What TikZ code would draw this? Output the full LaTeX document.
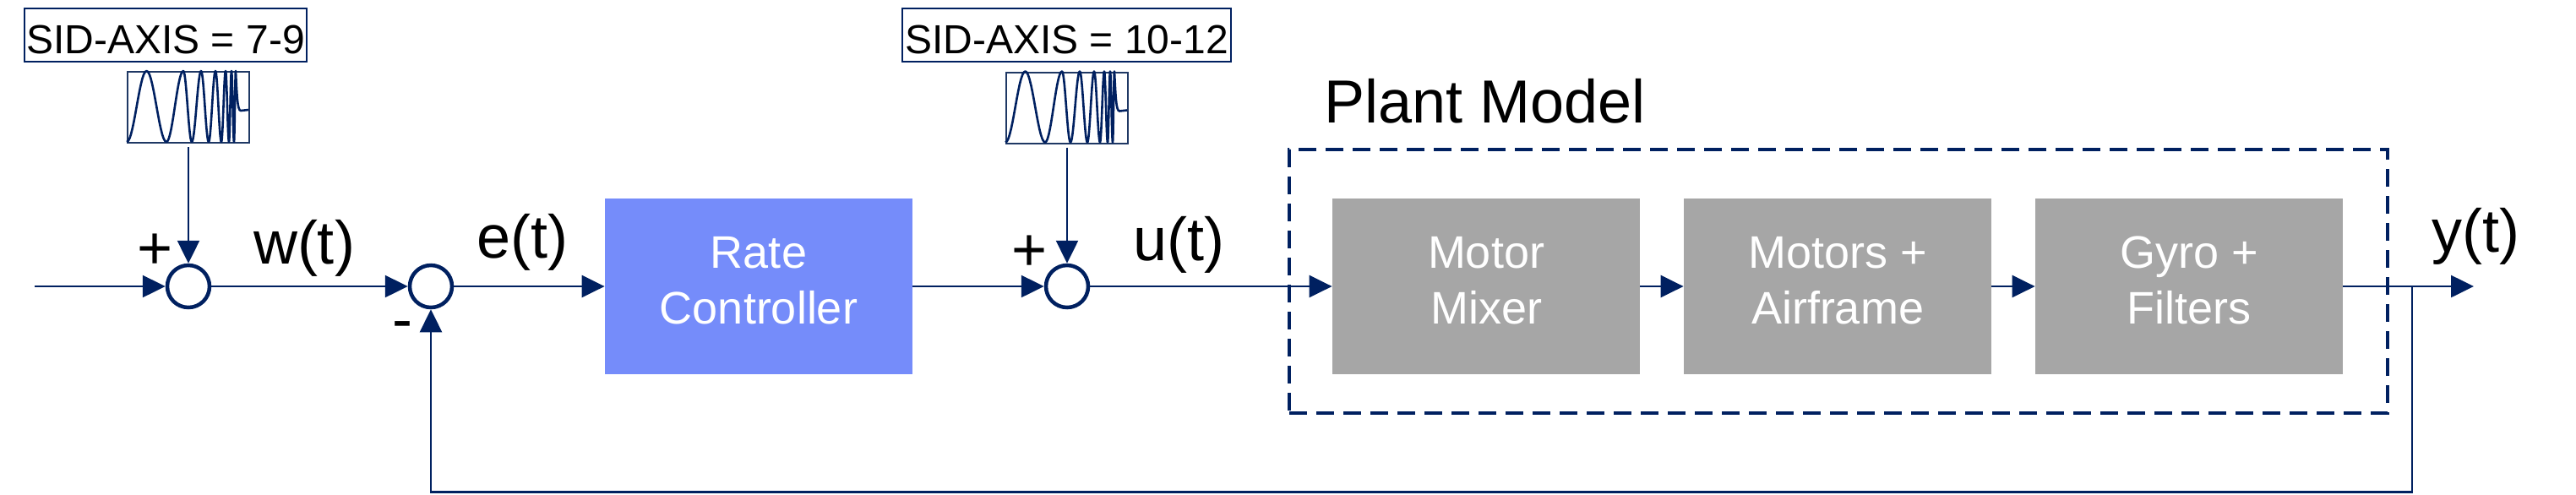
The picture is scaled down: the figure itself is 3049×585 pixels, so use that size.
\documentclass[tikz,border=0pt]{standalone}
\usepackage{fontspec}
\setmainfont{Liberation Sans}
\usetikzlibrary{arrows.meta}
\definecolor{navy}{HTML}{002060}
\definecolor{navybox}{HTML}{1F3864}
\definecolor{ratefill}{HTML}{758CFA}
\definecolor{plantgray}{HTML}{A6A6A6}
\newcommand{\lastdepth}{\rule[-7.5pt]{0pt}{7.5pt}}
\begin{document}
\begin{tikzpicture}[x=0.5pt,y=-0.5pt,
  line/.style={draw=navy, line width=1.25pt},
  arr/.style={line, -{Triangle[length=13.5pt,width=13pt]}},
  sumnode/.style={circle, draw=navy, line width=2.25pt, minimum size=25pt, inner sep=0pt},
  blockbox/.style={rectangle, minimum width=182pt, minimum height=104pt, inner sep=0pt, text=white, align=center, font=\fontsize{27}{33}\selectfont},
  ratebox/.style={blockbox, fill=ratefill},
  graybox/.style={blockbox, fill=plantgray},
  sidbox/.style={rectangle, draw=navy, line width=1.35pt, minimum height=31.5pt, inner sep=0pt, text height=21.5pt, text depth=0pt, font=\fontsize{24}{28}\selectfont},
  chirpbox/.style={rectangle, draw=navybox, line width=1pt, minimum width=72pt, minimum height=42pt, inner sep=0pt},
  sig/.style={font=\fontsize{36}{40}\selectfont, inner sep=0pt, anchor=base},
  plantbox/.style={rectangle, draw=navy, line width=2.25pt, dash pattern=on 10.5pt off 5.5pt, minimum width=650pt, minimum height=156pt, inner sep=0pt},
  chirp/.pic={
    \draw[navy, line width=1.3pt, line join=round] (0,84)
      \foreach \a/\b/\s in {0/23.5/1, 23.5/47/-1, 47/67/1, 67/77/-1, 77/88/1, 88/97/-1, 97/105/1, 105/112/-1, 112/117/1, 117/121/-1, 121/124/1, 124/127/-1, 127/129/1}
      { -- plot[variable=\t, domain=0:180, samples=15] ({\a+(\b-\a)*\t/180},{42+(\s)*42*cos(\t)}) }
      .. controls (130.5,30) and (131,47) .. (135,47) -- (144,46);
  }
]
\useasboundingbox (0,0) rectangle (3049,585);

% SID labels and chirp sources
\node[sidbox, minimum width=167pt] (sid1) at (196,41.5) {SID-AXIS = 7-9};
\node[sidbox, minimum width=194.5pt] (sid2) at (1262.5,41.5) {SID-AXIS = 10-12};
\node[chirpbox] (c1) at (223,127) {};
\pic at (c1.north west) {chirp};
\node[chirpbox] (c2) at (1263,127.5) {};
\pic at (c2.north west) {chirp};

% plant model frame
\node[plantbox] (plant) at (2176,333) {};
\node[font=\fontsize{36}{40}\selectfont, inner sep=0pt, anchor=base] (pm) at (1757.5,145) {Plant Model};

% main blocks
\coordinate (in) at (41,339);
\node[sumnode] (s1) at (223,339) {};
\node[sumnode] (s2) at (510,339) {};
\node[ratebox] (rc) at (898,339) {Rate\\Controller\lastdepth};
\node[sumnode] (s3) at (1263,339) {};
\node[graybox] (mm) at (1759,339) {Motor\\Mixer\lastdepth};
\node[graybox] (ma) at (2175,339) {Motors +\\Airframe\lastdepth};
\node[graybox] (gf) at (2591,339) {Gyro +\\Filters\lastdepth};
\coordinate (out) at (2928,339);
\coordinate (br) at (2855,339);
\coordinate (fbR) at (2855,582.5);
\coordinate (fbL) at (510,582.5);

% signal labels and signs
\node[sig] (lw) at (360,312) {w(t)};
\node[sig] (le) at (618,305) {e(t)};
\node[sig] (lu) at (1395,308) {u(t)};
\node[sig] (ly) at (2930,298) {y(t)};
\node[sig] (p1) at (184,318) {+};
\node[sig] (p3) at (1219,320) {+};
\node[sig] (m2) at (476,402) {-};

% connectors
\draw[arr] (in) -- (s1);
\draw[arr, shorten <=2pt] (c1.south) -- (s1);
\draw[arr] (s1) -- (s2);
\draw[arr] (s2) -- (rc);
\draw[arr] (rc) -- (s3);
\draw[arr, shorten <=2pt] (c2.south) -- (s3);
\draw[arr] (s3) -- (mm);
\draw[arr] (mm) -- (ma);
\draw[arr] (ma) -- (gf);
\draw[arr] (gf) -- (out);
\draw[arr] (br) -- (fbR) -- (fbL) -- (s2);
\end{tikzpicture}
\end{document}
